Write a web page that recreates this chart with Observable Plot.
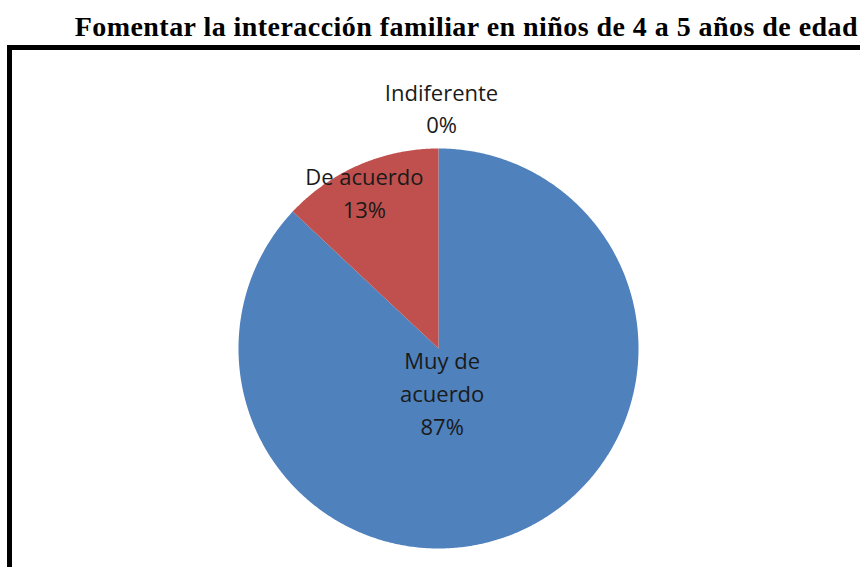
<!DOCTYPE html>
<html>
<head>
<meta charset="utf-8">
<script src="https://cdn.jsdelivr.net/npm/d3@7"></script>
<script src="https://cdn.jsdelivr.net/npm/@observablehq/plot@0.6"></script>
<style>
  html, body { margin: 0; padding: 0; background: #fff; overflow: hidden; width: 860px; height: 567px; }
  #title { height: 45px; box-sizing: border-box; padding-top: 13px; line-height: 28px; font-family: "Liberation Serif", "Times New Roman", serif; font-weight: bold; font-size: 28px; letter-spacing: 0.45px; color: #000; text-align: right; padding-right: 2px; white-space: nowrap; }
  #wrap { position: relative; width: 860px; height: 522px; }
  #frame { position: absolute; left: 7px; top: 0; width: 900px; height: 600px; border-left: 5px solid #000; border-top: 5px solid #000; pointer-events: none; }
</style>
</head>
<body>
<div id="title">Fomentar la interacción familiar en niños de 4 a 5 años de edad</div>
<div id="wrap"><div id="frame"></div></div>
<script>
const categories = ["Muy de acuerdo", "De acuerdo", "Indiferente"];
const values = [87, 13, 0];
const labelText = ["Muy de\nacuerdo\n87%", "De acuerdo\n13%", "Indiferente\n0%"];
const colors = ["#4F81BD", "#C0504D", "#9BBB59"];

const data = categories.map((c, i) => ({name: c, value: values[i], label: labelText[i]}));
const arcs = d3.pie().sort(null).value(d => d.value).startAngle(0).endAngle(2 * Math.PI)(data);

// polygon points for each slice (unit radius, y up)
const pts = [];
for (const a of arcs) {
  if (a.endAngle - a.startAngle <= 0) continue;
  pts.push({name: a.data.name, x: 0, y: 0});
  const n = Math.max(2, Math.ceil((a.endAngle - a.startAngle) / (Math.PI / 360)));
  for (let k = 0; k <= n; k++) {
    const t = a.startAngle + (a.endAngle - a.startAngle) * k / n;
    pts.push({name: a.data.name, x: Math.sin(t), y: Math.cos(t)});
  }
  pts.push({name: a.data.name, x: 0, y: 0});
}

const R = 200, W = 860, H = 522, cx = 438, cy = 303;

// label placement: radial factor along mid angle (outside for empty slice), plus pixel nudges
const radial = {"Muy de acuerdo": 0.235, "De acuerdo": 0.82, "Indiferente": 1.15};
const nudge = {"Muy de acuerdo": [-15, 0], "De acuerdo": [-9, 7], "Indiferente": [3, 12]};
const labels = arcs.map(a => {
  const m = (a.startAngle + a.endAngle) / 2;
  const k = radial[a.data.name];
  const [nx, ny] = nudge[a.data.name];
  return {name: a.data.name, label: a.data.label, x: k * Math.sin(m) + nx / R, y: k * Math.cos(m) + ny / R};
});

const chart = Plot.plot({
  width: W,
  height: H,
  margin: 0,
  x: {domain: [-cx / R, (W - cx) / R], axis: null},
  y: {domain: [-(H - cy) / R, cy / R], axis: null},
  color: {domain: categories, range: colors},
  marks: [
    Plot.line(pts, {x: "x", y: "y", z: "name", fill: "name", stroke: null, curve: "linear"}),
    Plot.text(labels, {x: "x", y: "y", text: "label", fontFamily: "'Open Sans', sans-serif", fontSize: 22, lineHeight: 1.48, fill: "#1a1a1a", textAnchor: "middle"})
  ]
});
document.getElementById("wrap").insertBefore(chart, document.getElementById("frame"));
chart.style.display = "block";
</script>
</body>
</html>
